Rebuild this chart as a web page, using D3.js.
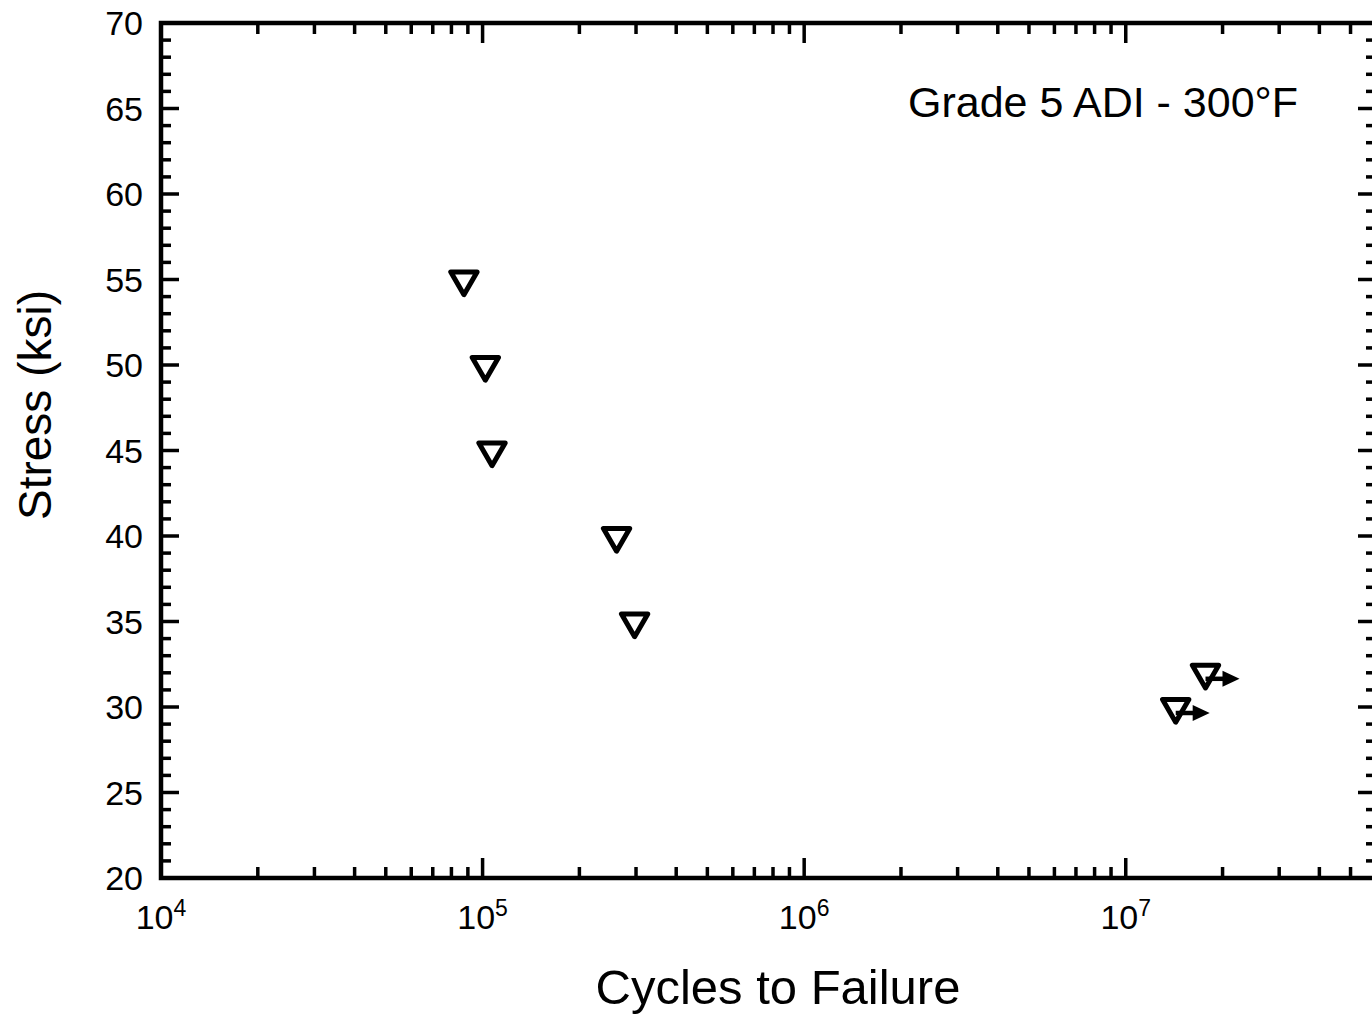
<!DOCTYPE html>
<html>
<head>
<meta charset="utf-8">
<script src="https://cdn.jsdelivr.net/npm/d3@7"></script>
<style>
  html, body { margin: 0; padding: 0; background: #fff; }
  svg { display: block; }
  text { font-family: "Liberation Sans", Arial, Helvetica, sans-serif; fill: #000; }
</style>
</head>
<body>
<svg id="chart" width="1372" height="1014"></svg>
<script>
// ---- data ----
const cycles = [8.75e4, 1.02e5, 1.07e5, 2.61e5, 2.97e5];
const stress = [55, 50, 45, 40, 35];
const runoutCycles = [1.77e7, 1.43e7];
const runoutStress = [32, 30];
const xDomain = [1e4, 6e7];
const yDomain = [20, 70];
const xMajorTicks = [1e4, 1e5, 1e6, 1e7];
const xTickExponents = ["4", "5", "6", "7"];
const yMajorTicks = [20, 25, 30, 35, 40, 45, 50, 55, 60, 65, 70];
const titleX = "Cycles to Failure";
const titleY = "Stress (ksi)";
const annotation = "Grade 5 ADI - 300°F";

// ---- layout ----
const L = 161, R = 1376, T = 23, B = 878;
const svg = d3.select("#chart");

const x = d3.scaleLog().domain(xDomain).range([L, R]);
const y = d3.scaleLinear().domain(yDomain).range([B, T]);

// minor ticks
const xMinor = [];
for (let e = 4; e <= 7; e++) for (let m = 2; m <= 9; m++) {
  const v = m * Math.pow(10, e);
  if (v <= xDomain[1]) xMinor.push(v);
}
const yMinor = d3.range(yDomain[0], yDomain[1] + 1, 1).filter(v => v % 5 !== 0);

const majLen = 20, minLen = 11;
const g = svg.append("g");

// x ticks (bottom & top, inward)
const xt = g.append("g").attr("stroke", "#000").attr("stroke-width", 3.5);
[[xMajorTicks, majLen], [xMinor, minLen]].forEach(([arr, len]) => {
  xt.selectAll(null).data(arr).enter().append("line")
    .attr("x1", d => x(d)).attr("x2", d => x(d))
    .attr("y1", B).attr("y2", B - len);
  xt.selectAll(null).data(arr).enter().append("line")
    .attr("x1", d => x(d)).attr("x2", d => x(d))
    .attr("y1", T).attr("y2", T + len);
});
// y ticks (left & right, inward)
const yt = g.append("g").attr("stroke", "#000").attr("stroke-width", 3.5);
[[yMajorTicks, majLen - 2], [yMinor, minLen - 1]].forEach(([arr, len]) => {
  yt.selectAll(null).data(arr).enter().append("line")
    .attr("y1", d => y(d)).attr("y2", d => y(d))
    .attr("x1", L).attr("x2", L + len);
  yt.selectAll(null).data(arr).enter().append("line")
    .attr("y1", d => y(d)).attr("y2", d => y(d))
    .attr("x1", R).attr("x2", R - len);
});

// frame
g.append("rect").attr("x", L).attr("y", T).attr("width", R - L).attr("height", B - T)
  .attr("fill", "none").attr("stroke", "#000").attr("stroke-width", 4.5);

// y tick labels
g.append("g").selectAll("text").data(yMajorTicks).enter().append("text")
  .attr("x", 143).attr("y", d => y(d)).attr("dy", "0.36em")
  .attr("text-anchor", "end").attr("font-size", 34)
  .text(d => d);

// x tick labels
const xl = g.append("g").selectAll("text").data(xMajorTicks).enter().append("text")
  .attr("x", d => x(d)).attr("y", 929)
  .attr("text-anchor", "middle").attr("font-size", 34);
xl.append("tspan").text("10");
xl.append("tspan").attr("font-size", 23).attr("dy", -13).text((d, i) => xTickExponents[i]);

// titles
svg.append("text").attr("x", 778).attr("y", 1004).attr("text-anchor", "middle")
  .attr("font-size", 49).text(titleX);
svg.append("text").attr("transform", "translate(51,405) rotate(-90)")
  .attr("text-anchor", "middle").attr("font-size", 46).text(titleY);
svg.append("text").attr("x", 908).attr("y", 117).attr("font-size", 43).text(annotation);

// markers
const tri = d3.symbol().type(d3.symbolTriangle).size(300)();
const pts = cycles.map((c, i) => ({ c, s: stress[i] }));
svg.append("g").selectAll("path").data(pts).enter().append("path")
  .attr("d", tri)
  .attr("transform", d => `translate(${x(d.c)},${y(d.s)}) rotate(180)`)
  .attr("fill", "none").attr("stroke", "#000").attr("stroke-width", 5)
  .attr("stroke-linejoin", "round");

// runouts
const ro = runoutCycles.map((c, i) => ({ c, s: runoutStress[i] }));
const rg = svg.append("g");
rg.selectAll("path.tri").data(ro).enter().append("path").attr("class", "tri")
  .attr("d", tri)
  .attr("transform", d => `translate(${x(d.c)},${y(d.s)}) rotate(180)`)
  .attr("fill", "none").attr("stroke", "#000").attr("stroke-width", 5)
  .attr("stroke-linejoin", "round");
rg.selectAll("line").data(ro).enter().append("line")
  .attr("x1", d => x(d.c)).attr("x2", d => x(d.c) + 22)
  .attr("y1", d => y(d.s) + 6).attr("y2", d => y(d.s) + 6)
  .attr("stroke", "#000").attr("stroke-width", 4.5);
rg.selectAll("path.head").data(ro).enter().append("path").attr("class", "head")
  .attr("d", "M0,-8 L17,0 L0,8 Z")
  .attr("transform", d => `translate(${x(d.c) + 17},${y(d.s) + 6})`)
  .attr("fill", "#000");
</script>
</body>
</html>
